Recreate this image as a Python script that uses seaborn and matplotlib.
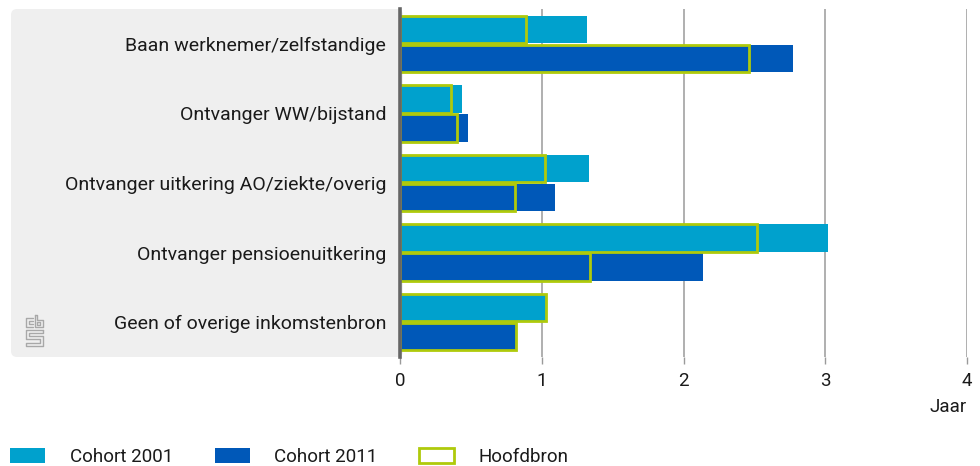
import numpy as np
import pandas as pd
import matplotlib
matplotlib.use('Agg')
import matplotlib.pyplot as plt
import seaborn as sns
from matplotlib.patches import FancyBboxPatch, Patch
from matplotlib.lines import Line2D
from matplotlib.transforms import IdentityTransform

# Data (jaren)
categories = ['Baan werknemer/zelfstandige', 'Ontvanger WW/bijstand',
              'Ontvanger uitkering AO/ziekte/overig', 'Ontvanger pensioenuitkering',
              'Geen of overige inkomstenbron']
cohorten = ['Cohort 2001', 'Cohort 2011']
totaal_2001 = [1.32, 0.44, 1.33, 3.02, 1.03]
totaal_2011 = [2.77, 0.48, 1.09, 2.14, 0.82]
hoofdbron_2001 = [0.89, 0.36, 1.02, 2.52, 1.03]
hoofdbron_2011 = [2.46, 0.40, 0.81, 1.34, 0.82]
x_ticks = [0, 1, 2, 3, 4]

col_2001 = '#00a1cd'
col_2011 = '#0058b8'
col_hoofd = '#afca0b'

df = pd.DataFrame({
    'categorie': categories * 2,
    'cohort': [cohorten[0]] * 5 + [cohorten[1]] * 5,
    'totaal': totaal_2001 + totaal_2011,
    'hoofdbron': hoofdbron_2001 + hoofdbron_2011,
})

sns.set_theme(style='white')
plt.rcParams['font.family'] = ['Roboto', 'DejaVu Sans']
plt.rcParams['text.color'] = '#1a1a1a'

fig = plt.figure(figsize=(9.8, 4.66), dpi=100)
ax = fig.add_axes([400 / 980, 1 - 357 / 466, 567 / 980, 348 / 466])

# grey label panel behind the category names
panel = FancyBboxPatch((11, 466 - 357), 392, 348, boxstyle='round,pad=0,rounding_size=6',
                       transform=IdentityTransform(), facecolor='#efefef', edgecolor='none', zorder=-2)
fig.patches.append(panel)

# small cbs logo (outline drawing)
logo_kw = dict(color='#a8a8a8', lw=1.0, transform=IdentityTransform(), zorder=-1)
def px(pts):
    xs, ys = zip(*pts)
    return list(xs), [466 - y for y in ys]
for seg in [
    [(32.5, 318), (25.5, 318), (25.5, 327), (32.5, 327)],
    [(32.5, 321), (28.5, 321), (28.5, 324), (32.5, 324)],
    [(34.5, 315), (34.5, 327), (42.5, 327), (42.5, 319.5), (37, 319.5), (37, 315), (34.5, 315)],
    [(37, 322), (40, 322), (40, 324.5), (37, 324.5), (37, 322)],
    [(42.5, 330), (25.5, 330), (25.5, 339), (39.5, 339), (39.5, 343), (25.5, 343), (25.5, 346),
     (42.5, 346), (42.5, 336), (28.5, 336), (28.5, 333), (42.5, 333), (42.5, 330)],
]:
    xs, ys = px(seg)
    fig.lines.append(Line2D(xs, ys, **logo_kw))

# totals per cohort
sns.barplot(data=df, y='categorie', x='totaal', hue='cohort', order=categories,
            hue_order=cohorten, palette=[col_2001, col_2011], saturation=1, orient='h',
            width=0.83, gap=0.05, linewidth=0, errorbar=None, legend=False, ax=ax, zorder=2)
# hoofdbron outlines
sns.barplot(data=df, y='categorie', x='hoofdbron', hue='cohort', order=categories,
            hue_order=cohorten, orient='h', width=0.83, gap=0.05,
            facecolor='none', edgecolor=col_hoofd, linewidth=2.0,
            errorbar=None, legend=False, ax=ax, zorder=3)

ax.set_xlim(0, 4)
ax.set_ylim(4.5, -0.5)
ax.set_xticks(x_ticks)
ax.set_xticklabels([str(t) for t in x_ticks])
ax.set_xlabel('')
ax.set_ylabel('')
ax.set_facecolor('none')
ax.grid(axis='x', color='#9a9a9a', linewidth=1.1)
ax.set_axisbelow(True)
for s in ['top', 'right', 'bottom']:
    ax.spines[s].set_visible(False)
ax.spines['left'].set_color('#666666')
ax.spines['left'].set_linewidth(2.6)
ax.spines['left'].set_zorder(5)
ax.tick_params(axis='x', length=5, width=1, color='#9a9a9a', direction='out',
               pad=6, labelsize=13.5, bottom=True, labelcolor='#1a1a1a')
ax.tick_params(axis='y', length=0, pad=10, labelsize=14, labelcolor='#1a1a1a')

fig.text(967 / 980, 1 - 407 / 466, 'Jaar', ha='right', va='center', fontsize=13.5)

handles = [Patch(facecolor=col_2001, edgecolor='none', label='Cohort 2001'),
           Patch(facecolor=col_2011, edgecolor='none', label='Cohort 2011'),
           Patch(facecolor='none', edgecolor=col_hoofd, linewidth=2.0, label='Hoofdbron')]
fig.legend(handles=handles, loc='center left', bbox_to_anchor=(10 / 980, 1 - 457 / 466),
           ncol=3, frameon=False, fontsize=13.5, handlelength=1.87, handleheight=0.9,
           handletextpad=1.33, columnspacing=2.2, borderpad=0, borderaxespad=0)

fig.savefig('out.png', dpi=100)
